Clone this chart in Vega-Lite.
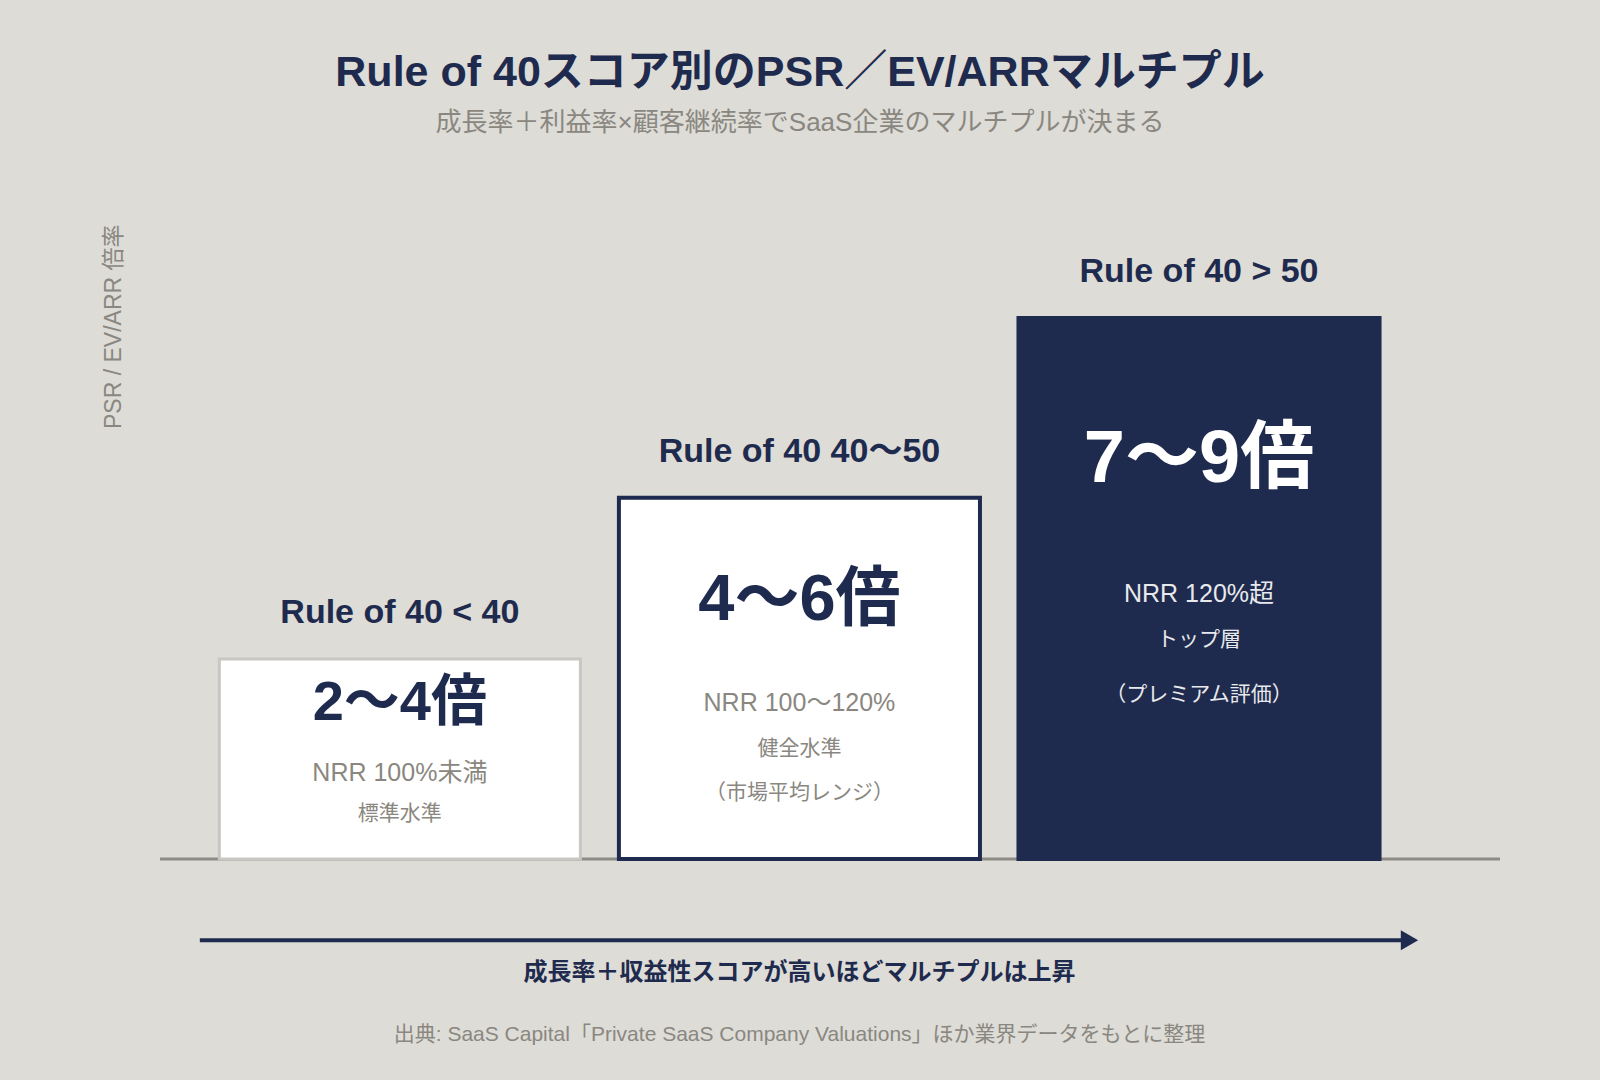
{
  "$schema": "https://vega.github.io/schema/vega-lite/v6.json",
  "autosize": "none",
  "width": 1340,
  "height": 635,
  "padding": {"left": 160, "top": 224, "right": 100, "bottom": 221},
  "background": "#dddcd7",

  "title": {
    "text": "Rule of 40スコア別のPSR／EV/ARRマルチプル",
    "subtitle": "成長率＋利益率×顧客継続率でSaaS企業のマルチプルが決まる",
    "anchor": "middle",
    "dx": -30,
    "offset": 88,
    "fontSize": 43,
    "fontWeight": "bold",
    "color": "#1f2b4e",
    "subtitleFontSize": 26,
    "subtitleColor": "#8a8780",
    "subtitlePadding": 15
  },

  "config": {
    "font": "Liberation Sans, Noto Sans CJK JP",
    "view": {"stroke": null}
  },

  "datasets": {
    "tiers": [
      {"tier": "Rule of 40 < 40", "height": 31.5},
      {"tier": "Rule of 40 40〜50", "height": 56.9},
      {"tier": "Rule of 40 > 50", "height": 85.2}
    ],
    "notes": [
      {"tier": "Rule of 40 < 40", "role": "multiple", "text": "2〜4倍", "pos": 24.5},
      {"tier": "Rule of 40 < 40", "role": "nrr", "text": "NRR 100%未満", "pos": 13.5},
      {"tier": "Rule of 40 < 40", "role": "note", "text": "標準水準", "pos": 7.1},
      {"tier": "Rule of 40 40〜50", "role": "multiple", "text": "4〜6倍", "pos": 40.8},
      {"tier": "Rule of 40 40〜50", "role": "nrr", "text": "NRR 100〜120%", "pos": 24.6},
      {"tier": "Rule of 40 40〜50", "role": "note", "text": "健全水準", "pos": 17.3},
      {"tier": "Rule of 40 40〜50", "role": "note", "text": "（市場平均レンジ）", "pos": 10.4},
      {"tier": "Rule of 40 > 50", "role": "multiple", "text": "7〜9倍", "pos": 62.9},
      {"tier": "Rule of 40 > 50", "role": "nrr", "text": "NRR 120%超", "pos": 41.7},
      {"tier": "Rule of 40 > 50", "role": "note", "text": "トップ層", "pos": 34.5},
      {"tier": "Rule of 40 > 50", "role": "note", "text": "（プレミアム評価）", "pos": 25.9}
    ]
  },

  "layer": [
    {
      "data": {"values": [{}]},
      "mark": {"type": "rule", "color": "#8e8c87", "strokeWidth": 3},
      "encoding": {"y": {"datum": 0, "type": "quantitative"}}
    },
    {
      "data": {"name": "tiers"},
      "mark": {"type": "bar"},
      "encoding": {
        "x": {
          "field": "tier",
          "type": "nominal",
          "sort": null,
          "axis": null,
          "scale": {
            "domain": ["Rule of 40 < 40", "Rule of 40 40〜50", "Rule of 40 > 50"],
            "paddingInner": 0.0964,
            "paddingOuter": 0.225,
            "align": 0.33
          }
        },
        "y": {
          "field": "height",
          "type": "quantitative",
          "title": "PSR / EV/ARR 倍率",
          "scale": {"domain": [0, 100], "nice": false},
          "axis": {
            "labels": false,
            "ticks": false,
            "domain": false,
            "grid": false,
            "titleAnchor": "end",
            "titlePadding": 35,
            "titleFontSize": 23,
            "titleFontWeight": "normal",
            "titleColor": "#8a8780"
          }
        },
        "fill": {
          "condition": {"test": "datum.tier === 'Rule of 40 > 50'", "value": "#1f2b4e"},
          "value": "#ffffff"
        },
        "stroke": {
          "condition": {"test": "datum.tier === 'Rule of 40 < 40'", "value": "#c9c7c2"},
          "value": "#1f2b4e"
        },
        "strokeWidth": {
          "condition": {"test": "datum.tier === 'Rule of 40 < 40'", "value": 3},
          "value": 4
        }
      }
    },
    {
      "data": {"name": "tiers"},
      "mark": {"type": "text", "fontSize": 34, "fontWeight": "bold", "baseline": "middle", "dy": -46, "color": "#1f2b4e"},
      "encoding": {
        "x": {"field": "tier", "type": "nominal"},
        "y": {"field": "height", "type": "quantitative", "title": "PSR / EV/ARR 倍率"},
        "text": {"field": "tier"}
      }
    },
    {
      "data": {"name": "notes"},
      "transform": [{"filter": "datum.role === 'multiple'"}],
      "mark": {"type": "text", "fontWeight": "bold", "baseline": "middle"},
      "encoding": {
        "x": {"field": "tier", "type": "nominal"},
        "y": {"field": "pos", "type": "quantitative", "title": "PSR / EV/ARR 倍率"},
        "text": {"field": "text"},
        "size": {
          "condition": [
            {"test": "datum.tier === 'Rule of 40 > 50'", "value": 74},
            {"test": "datum.tier === 'Rule of 40 40〜50'", "value": 65}
          ],
          "value": 56
        },
        "color": {
          "condition": {"test": "datum.tier === 'Rule of 40 > 50'", "value": "#ffffff"},
          "value": "#1f2b4e"
        }
      }
    },
    {
      "data": {"name": "notes"},
      "transform": [{"filter": "datum.role === 'nrr'"}],
      "mark": {"type": "text", "fontSize": 25, "baseline": "middle"},
      "encoding": {
        "x": {"field": "tier", "type": "nominal"},
        "y": {"field": "pos", "type": "quantitative", "title": "PSR / EV/ARR 倍率"},
        "text": {"field": "text"},
        "color": {
          "condition": {"test": "datum.tier === 'Rule of 40 > 50'", "value": "#e8e9ec"},
          "value": "#8a8780"
        }
      }
    },
    {
      "data": {"name": "notes"},
      "transform": [{"filter": "datum.role === 'note'"}],
      "mark": {"type": "text", "fontSize": 21, "baseline": "middle"},
      "encoding": {
        "x": {"field": "tier", "type": "nominal"},
        "y": {"field": "pos", "type": "quantitative", "title": "PSR / EV/ARR 倍率"},
        "text": {"field": "text"},
        "color": {
          "condition": {"test": "datum.tier === 'Rule of 40 > 50'", "value": "#e8e9ec"},
          "value": "#8a8780"
        }
      }
    },
    {
      "data": {"values": [{}]},
      "mark": {"type": "rule", "color": "#1f2b4e", "strokeWidth": 4},
      "encoding": {
        "x": {"datum": "Rule of 40 < 40", "bandPosition": -0.054},
        "x2": {"datum": "Rule of 40 > 50", "bandPosition": 1.071},
        "y": {"datum": -12.8, "type": "quantitative"}
      }
    },
    {
      "data": {"values": [{}]},
      "mark": {"type": "point", "shape": "triangle-right", "filled": true, "size": 400, "color": "#1f2b4e", "opacity": 1},
      "encoding": {
        "x": {"datum": "Rule of 40 > 50", "bandPosition": 1.083},
        "y": {"datum": -12.8, "type": "quantitative"}
      }
    },
    {
      "data": {"values": [{}]},
      "mark": {"type": "text", "text": "成長率＋収益性スコアが高いほどマルチプルは上昇", "fontSize": 24, "fontWeight": "bold", "baseline": "middle", "color": "#1f2b4e"},
      "encoding": {
        "x": {"datum": "Rule of 40 40〜50"},
        "y": {"datum": -17.95, "type": "quantitative"}
      }
    },
    {
      "data": {"values": [{}]},
      "mark": {"type": "text", "text": "出典: SaaS Capital「Private SaaS Company Valuations」ほか業界データをもとに整理", "fontSize": 21, "baseline": "middle", "color": "#8a8780"},
      "encoding": {
        "x": {"datum": "Rule of 40 40〜50"},
        "y": {"datum": -27.7, "type": "quantitative"}
      }
    }
  ]
}
